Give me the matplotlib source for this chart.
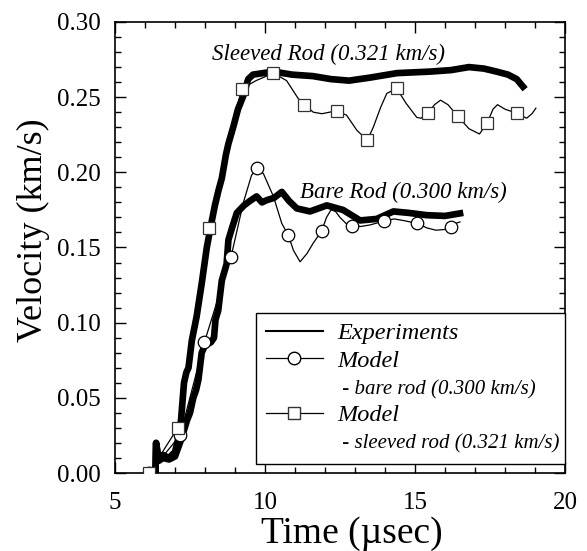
import matplotlib
matplotlib.use("Agg")
import matplotlib.pyplot as plt
from matplotlib import font_manager
from matplotlib.lines import Line2D

# locate a Times-like serif font
serif_name = 'DejaVu Serif'
for f in font_manager.findSystemFonts():
    if 'LiberationSerif' in f.replace(' ', ''):
        try:
            font_manager.fontManager.addfont(f)
        except Exception:
            pass
for fe in font_manager.fontManager.ttflist:
    if fe.name.startswith('Liberation Serif'):
        serif_name = fe.name
        break
plt.rcParams['font.family'] = [serif_name, 'DejaVu Serif']

# ---- Experimental data (thick noisy traces) ----
exp_sleeved_t = [6.35, 6.37, 6.45, 6.6, 6.8, 7.0, 7.1, 7.2, 7.3, 7.38, 7.45, 7.56, 7.72, 7.89,
                 8.06, 8.2, 8.33, 8.45, 8.56, 8.7, 8.78, 8.94, 9.1, 9.28, 9.44, 9.6, 10.28,
                 10.9, 11.6, 12.2, 12.8, 13.5, 14.4, 15.5, 16.2, 16.8, 17.3, 17.72, 18.1,
                 18.39, 18.6]
exp_sleeved_v = [0.0, 0.020, 0.010, 0.012, 0.010, 0.014, 0.022, 0.035, 0.060, 0.067, 0.070,
                 0.088, 0.104, 0.126, 0.150, 0.165, 0.178, 0.188, 0.196, 0.212, 0.219, 0.230,
                 0.242, 0.251, 0.262, 0.265, 0.267, 0.265, 0.264, 0.262, 0.261, 0.263, 0.266,
                 0.267, 0.268, 0.270, 0.269, 0.267, 0.265, 0.262, 0.257]

exp_bare_t = [6.35, 6.37, 6.45, 6.6, 6.8, 7.0, 7.2, 7.4, 7.5, 7.61, 7.7, 7.78, 7.89, 8.0, 8.2,
              8.3, 8.35, 8.44, 8.56, 8.72, 8.78, 8.9, 9.06, 9.3, 9.5, 9.72, 9.9, 10.06, 10.3,
              10.56, 10.8, 11.06, 11.5, 12.06, 12.6, 13.17, 13.72, 14.28, 14.8, 15.39, 16.0, 16.5]
exp_bare_v = [0.0, 0.020, 0.008, 0.010, 0.009, 0.011, 0.022, 0.035, 0.040, 0.050, 0.055, 0.062,
              0.080, 0.085, 0.087, 0.090, 0.102, 0.108, 0.128, 0.139, 0.155, 0.163, 0.173, 0.178,
              0.181, 0.184, 0.180, 0.1815, 0.183, 0.187, 0.181, 0.176, 0.174, 0.178, 0.175,
              0.168, 0.169, 0.174, 0.173, 0.1715, 0.171, 0.1727]

# ---- Model: bare rod ----
bare_line_t = [6.14, 7.17, 7.98, 8.87, 9.28, 9.55, 9.74, 9.95, 10.28, 10.56, 10.78, 10.95, 11.17,
               11.4, 11.61, 11.89, 12.05, 12.2, 12.35, 12.5, 12.7, 12.89, 13.2, 13.5, 13.97,
               14.3, 14.6, 15.08, 15.4, 15.7, 16.0, 16.19, 16.35, 16.5]
bare_line_v = [0.0, 0.025, 0.087, 0.144, 0.180, 0.198, 0.203, 0.199, 0.184, 0.166, 0.158, 0.148,
               0.1405, 0.146, 0.153, 0.161, 0.170, 0.175, 0.174, 0.170, 0.166, 0.1645, 0.164,
               0.165, 0.1676, 0.169, 0.168, 0.166, 0.163, 0.1615, 0.162, 0.1638, 0.166, 0.167]
bare_mark_t = [6.14, 7.17, 7.98, 8.87, 9.74, 10.78, 11.89, 12.89, 13.97, 15.08, 16.19]
bare_mark_v = [0.0, 0.025, 0.087, 0.144, 0.203, 0.158, 0.161, 0.1645, 0.1676, 0.166, 0.1638]

# ---- Model: sleeved rod ----
sl_line_t = [6.14, 7.09, 8.14, 9.22, 9.7, 10.28, 10.72, 11.11, 11.31, 11.61, 11.9, 12.15, 12.39,
             12.72, 13.06, 13.41, 13.61, 13.85, 14.06, 14.39, 14.7, 15.06, 15.2, 15.44, 15.65,
             15.85, 16.1, 16.42, 16.8, 17.15, 17.41, 17.6, 17.75, 18.0, 18.41, 18.72, 18.9, 19.03]
sl_line_v = [0.0, 0.030, 0.163, 0.2556, 0.261, 0.266, 0.261, 0.249, 0.245, 0.240, 0.239, 0.240,
             0.241, 0.238, 0.228, 0.2214, 0.230, 0.243, 0.2525, 0.2558, 0.246, 0.2365, 0.236,
             0.2396, 0.245, 0.248, 0.245, 0.2374, 0.229, 0.2255, 0.233, 0.242, 0.245, 0.242,
             0.2392, 0.236, 0.239, 0.2427]
sl_mark_t = [6.14, 7.09, 8.14, 9.22, 10.28, 11.31, 12.39, 13.41, 14.39, 15.44, 16.42, 17.41, 18.41]
sl_mark_v = [0.0, 0.030, 0.163, 0.2556, 0.266, 0.245, 0.241, 0.2214, 0.2558, 0.2396, 0.2374,
             0.233, 0.2392]

x_ticks = [5, 10, 15, 20]
y_ticks = [0.00, 0.05, 0.10, 0.15, 0.20, 0.25, 0.30]
y_ticklabels = ['0.00', '0.05', '0.10', '0.15', '0.20', '0.25', '0.30']

fig = plt.figure(figsize=(5.87, 5.51), dpi=100)
ax = fig.add_axes([115/587, 78/551, 450/587, 451/551])

exp_lw = 4.8
ax.plot(exp_sleeved_t, exp_sleeved_v, color='black', lw=exp_lw, solid_joinstyle='round', zorder=2)
ax.plot(exp_bare_t, exp_bare_v, color='black', lw=exp_lw, solid_joinstyle='round', zorder=2)

ax.plot(bare_line_t, bare_line_v, color='black', lw=0.9, zorder=3)
ax.plot(bare_mark_t, bare_mark_v, ls='none', marker='o', ms=9, mfc='white', mec='black',
        mew=0.9, zorder=4)
ax.plot(sl_line_t, sl_line_v, color='black', lw=0.9, zorder=3)
ax.plot(sl_mark_t, sl_mark_v, ls='none', marker='s', ms=8.5, mfc='white', mec='#333333',
        mew=0.9, zorder=4)

ax.set_xlim(5, 20)
ax.set_ylim(0, 0.30)
ax.set_xticks(x_ticks)
ax.set_xticks(range(5, 21), minor=True)
ax.set_yticks(y_ticks)
ax.set_yticklabels(y_ticklabels)
ax.set_yticks([i * 0.01 for i in range(31)], minor=True)
ax.tick_params(which='both', direction='in', top=True, right=True, width=1)
ax.tick_params(which='major', length=8)
ax.tick_params(which='minor', length=4)
ax.tick_params(axis='y', labelsize=18, pad=10)
ax.tick_params(axis='x', labelsize=18, pad=14)
for s in ax.spines.values():
    s.set_linewidth(1.2)

ax.set_xlabel('Time (\u00b5sec)', fontsize=27)
ax.xaxis.label.set_va('baseline')
ax.xaxis.set_label_coords(0.5256, -0.1552)
ax.set_ylabel('Velocity (km/s)', fontsize=26)
ax.yaxis.set_label_coords(-0.145, 0.539)

ax.text(8.22, 0.2747, 'Sleeved Rod (0.321 km/s)', style='italic', fontsize=16.5,
        ha='left', va='baseline')
ax.text(11.17, 0.1827, 'Bare Rod (0.300 km/s)', style='italic', fontsize=16.5,
        ha='left', va='baseline')

handles = [
    Line2D([], [], color='black', lw=1.5),
    Line2D([], [], color='black', lw=0.9, marker='o', ms=9, mfc='white', mec='black'),
    Line2D([], [], color='none'),
    Line2D([], [], color='black', lw=0.9, marker='s', ms=8.5, mfc='white', mec='#333333'),
    Line2D([], [], color='none'),
]
labels = ['Experiments', 'Model', ' - bare rod (0.300 km/s)', 'Model',
          ' - sleeved rod (0.321 km/s)']
leg = ax.legend(handles, labels, loc='upper left', mode='expand',
                bbox_to_anchor=(0.313, 0.0215, 0.687, 0.334), borderaxespad=0,
                fancybox=False, framealpha=1, edgecolor='black',
                prop={'style': 'italic', 'size': 17.5},
                handlelength=2.35, handletextpad=0.6, labelspacing=0.22, borderpad=0.4)
leg.get_frame().set_linewidth(1.0)
for i in (2, 4):
    leg.get_texts()[i].set_fontsize(15)

fig.savefig('out.png', dpi=100)
